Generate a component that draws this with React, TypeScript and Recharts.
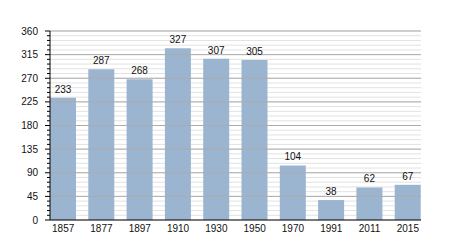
import { BarChart, Bar, XAxis, YAxis, CartesianGrid, ReferenceLine, LabelList } from "recharts";

const years = ["1857", "1877", "1897", "1910", "1930", "1950", "1970", "1991", "2011", "2015"];
const population = [233, 287, 268, 327, 307, 305, 104, 38, 62, 67];
const majorTicks = [0, 45, 90, 135, 180, 225, 270, 315, 360];

// minor ticks / gridlines every 9 units (5 per major step)
const minorTicks: number[] = [];
for (let v = 0; v <= 360; v += 9) minorTicks.push(v);

const data = years.map((year, i) => ({ year, population: population[i] }));

const YTick = (props: any) => {
  const { x, y, payload } = props;
  const isMajor = payload.value % 45 === 0;
  return (
    <g>
      <line x1={x - (isMajor ? 5 : 3)} x2={x} y1={y} y2={y} stroke="#000" strokeWidth={1} />
      {isMajor && (
        <text x={x - 12} y={y} dy="0.35em" textAnchor="end" fontSize={10} fill="#111">
          {payload.value}
        </text>
      )}
    </g>
  );
};

export default function App() {
  return (
    <div style={{ position: "absolute", left: 0, top: 0 }}>
      <BarChart
        width={450}
        height={250}
        data={data}
        margin={{ top: 31, right: 29, left: 0, bottom: 0 }}
        style={{ fontFamily: "Liberation Sans, Arial, sans-serif" }}
      >
        <CartesianGrid vertical={false} stroke="#e2e2e2" strokeWidth={1} />
        {majorTicks.slice(1).map((v) => (
          <ReferenceLine key={v} y={v} stroke="#acacac" strokeWidth={1} />
        ))}
        <XAxis
          dataKey="year"
          height={30}
          tickLine={false}
          tickSize={0}
          tickMargin={5}
          padding={{ left: -6, right: -6 }}
          axisLine={{ stroke: "#000" }}
          tick={{ fontSize: 10, fill: "#111" }}
          interval={0}
        />
        <YAxis
          width={50}
          domain={[0, 360]}
          ticks={minorTicks}
          interval={0}
          tickLine={false}
          tickSize={0}
          tickMargin={0}
          axisLine={{ stroke: "#000" }}
          tick={<YTick />}
        />
        <Bar dataKey="population" fill="#9bb4cf" barSize={26} isAnimationActive={false}>
          <LabelList dataKey="population" position="top" offset={5} fontSize={10} fill="#111" />
        </Bar>
      </BarChart>
    </div>
  );
}
